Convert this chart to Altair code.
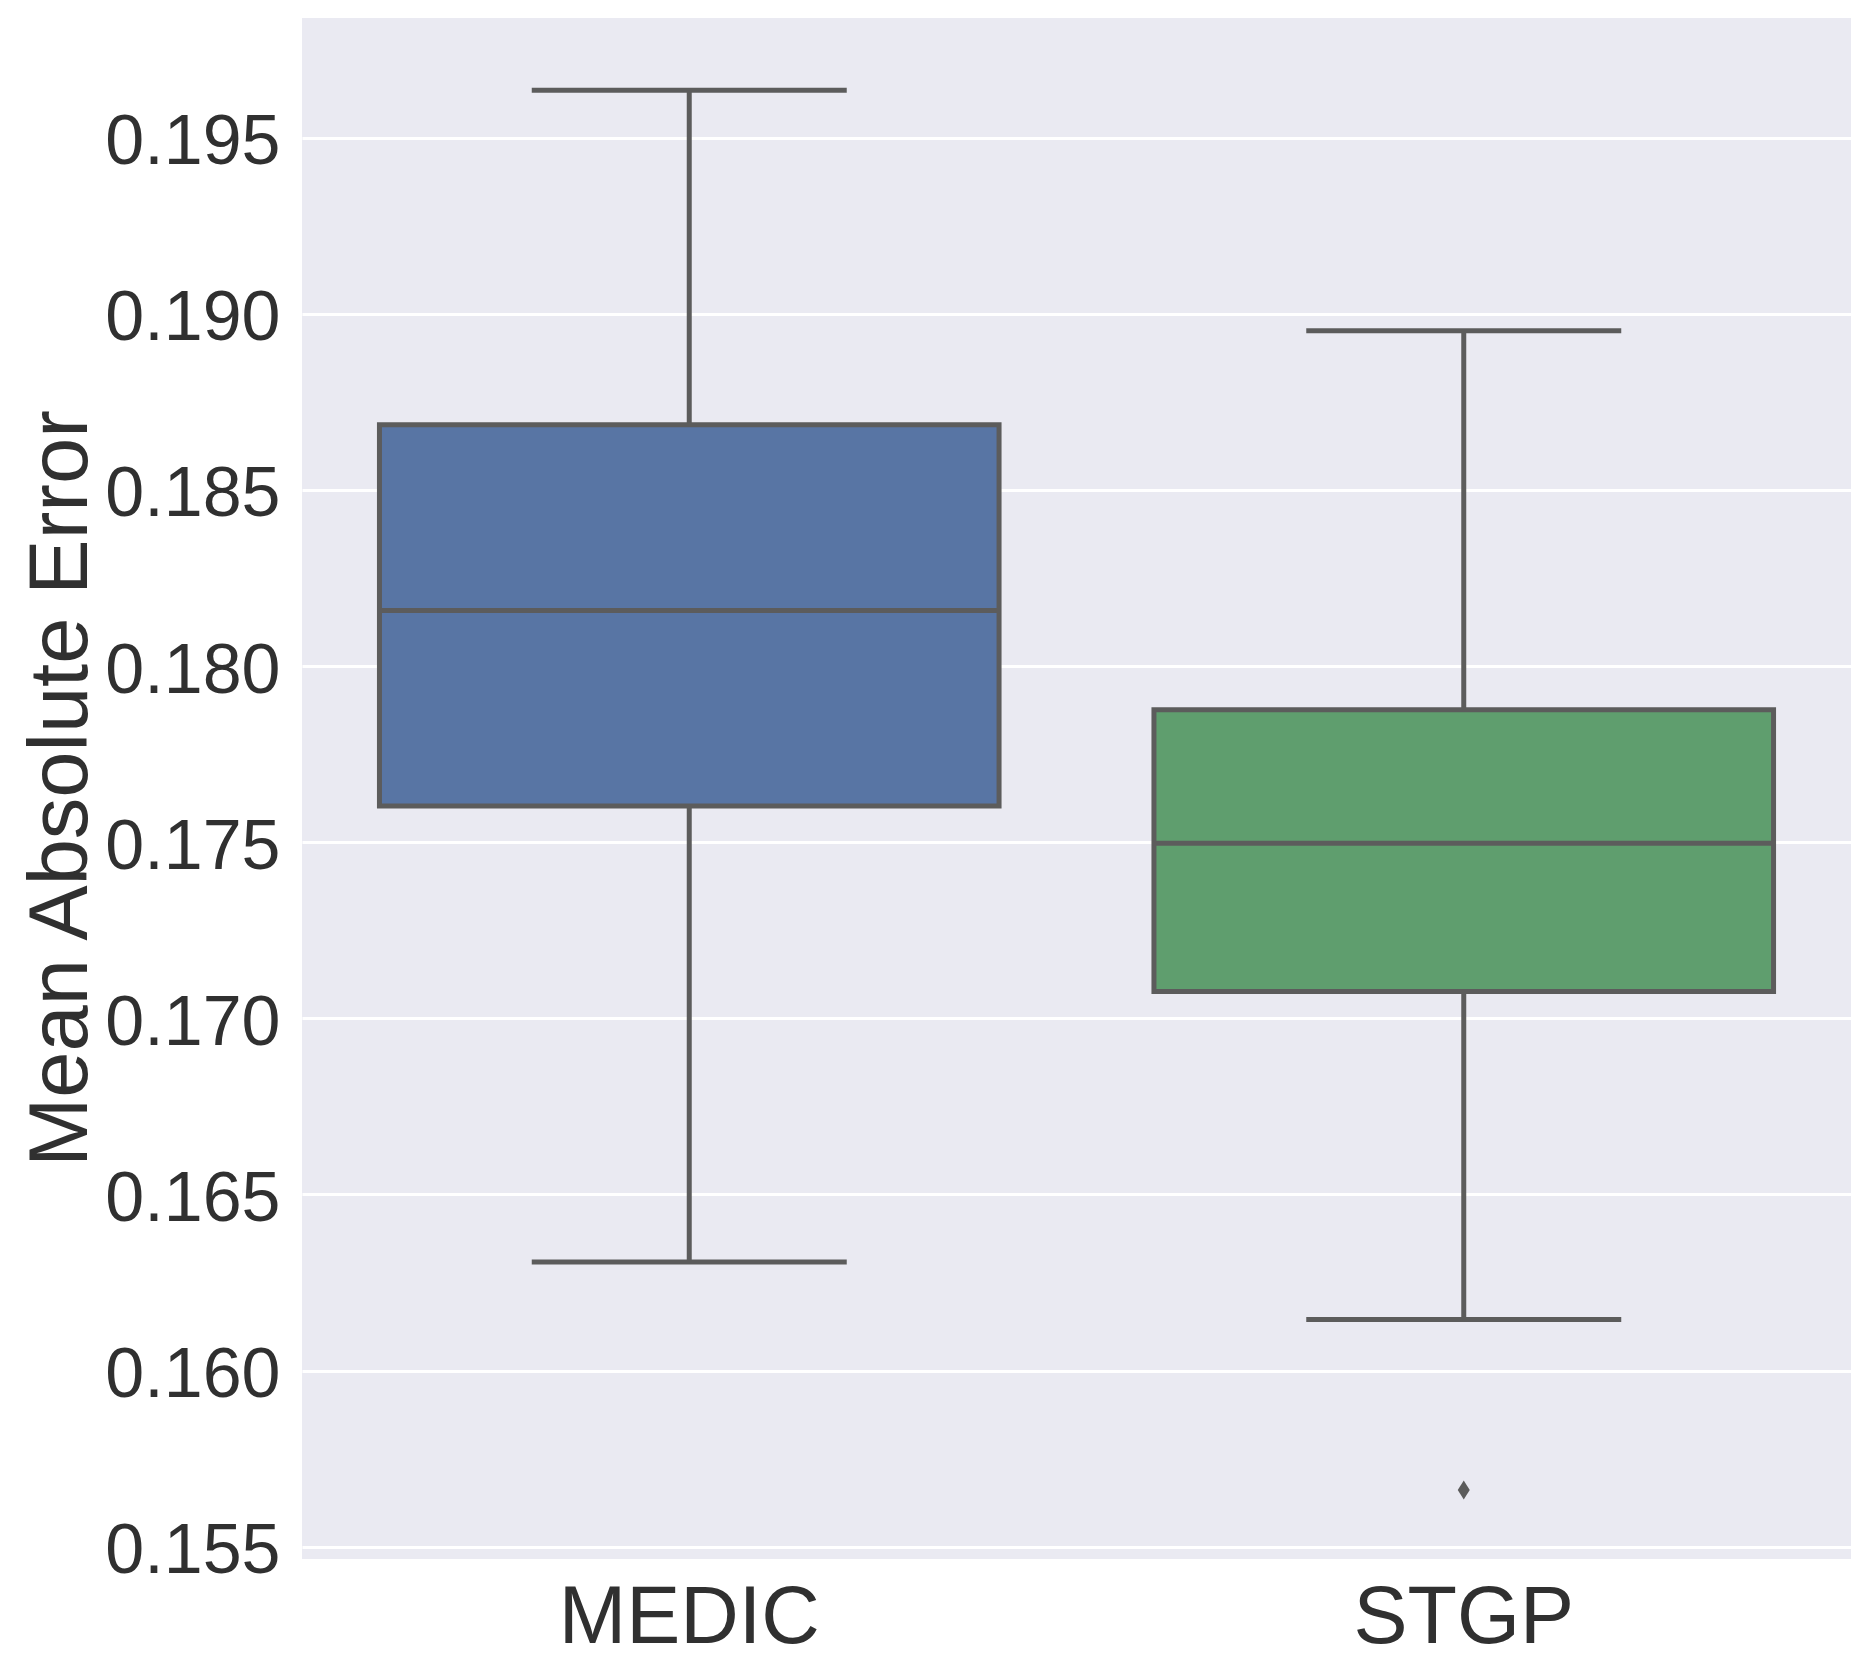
import altair as alt
import pandas as pd

# ---- data ----
categories = ["MEDIC", "STGP"]
whisker_low = [0.16308, 0.16145]
q1 = [0.17603, 0.17076]
median = [0.18158, 0.17497]
q3 = [0.18685, 0.17876]
whisker_high = [0.19635, 0.18952]

outlier_cat = ["STGP"]
outlier_val = [0.15661]

y_ticks = [0.155, 0.160, 0.165, 0.170, 0.175, 0.180, 0.185, 0.190, 0.195]
box_colors = ["#5875a4", "#5f9e6e"]

# ---- tables ----
stats = pd.DataFrame({
    "category": categories,
    "lo": whisker_low,
    "q1": q1,
    "med": median,
    "q3": q3,
    "hi": whisker_high,
})
outliers = pd.DataFrame({"category": outlier_cat, "value": outlier_val})

LINE = "#5c5c5c"
TEXT = "#303030"
FONT = "Liberation Sans"

y_scale = alt.Scale(domain=[0.15465, 0.19840], nice=False, zero=False)
x_scale = alt.Scale(domain=categories, paddingInner=0, paddingOuter=0)

x_enc = alt.X(
    "category:N",
    scale=x_scale,
    sort=categories,
    axis=alt.Axis(
        title="",
        labelAngle=0,
        labelFontSize=81,
        labelFont=FONT,
        labelColor=TEXT,
        labelPadding=19,
        labelBaseline="top",
        labelLimit=2000,
        ticks=False,
        tickSize=0,
        domain=False,
        grid=False,
    ),
)

y_axis = alt.Axis(
    title="Mean Absolute Error",
    values=y_ticks,
    format=".3f",
    labelFontSize=70,
    labelFont=FONT,
    labelColor=TEXT,
    labelPadding=22,
    labelOffset=5,
    labelLimit=2000,
    ticks=False,
    tickSize=0,
    domain=False,
    grid=True,
    gridColor="#ffffff",
    gridWidth=3,
    titleFont=FONT,
    titleFontSize=83,
    titleFontWeight="normal",
    titleColor=TEXT,
    titleAngle=270,
    titleBaseline="alphabetic",
    titleAlign="center",
    titleX=-216,
    titleY=770,
    titleLimit=3000,
)

base = alt.Chart(stats)

whiskers = base.mark_rule(color=LINE, strokeWidth=5).encode(
    x=x_enc,
    y=alt.Y("lo:Q", scale=y_scale, axis=y_axis),
    y2="hi:Q",
)

caps_hi = base.mark_tick(color=LINE, thickness=5, size=315, opacity=1).encode(
    x=x_enc, y=alt.Y("hi:Q", scale=y_scale)
)
caps_lo = base.mark_tick(color=LINE, thickness=5, size=315, opacity=1).encode(
    x=x_enc, y=alt.Y("lo:Q", scale=y_scale)
)

boxes = base.mark_bar(
    width=alt.RelativeBandSize(0.8), stroke=LINE, strokeWidth=5, opacity=1
).encode(
    x=x_enc,
    y=alt.Y("q1:Q", scale=y_scale),
    y2="q3:Q",
    fill=alt.Fill(
        "category:N",
        scale=alt.Scale(domain=categories, range=box_colors),
        legend=None,
    ),
)

medians = base.mark_tick(color=LINE, thickness=5, size=620, opacity=1).encode(
    x=x_enc, y=alt.Y("med:Q", scale=y_scale)
)

outlier_pts = alt.Chart(outliers).mark_point(
    shape="M0,-1L0.63,0L0,1L-0.63,0Z",
    filled=True,
    color=LINE,
    size=361,
    opacity=1,
).encode(
    x=x_enc,
    y=alt.Y("value:Q", scale=y_scale),
)

chart = (
    alt.layer(whiskers, caps_hi, caps_lo, boxes, medians, outlier_pts)
    .properties(
        width=1549,
        height=1541,
        padding={"left": 294, "top": 10, "right": 13, "bottom": 110},
        autosize=alt.AutoSizeParams(type="none"),
        background="#ffffff",
    )
    .configure_view(fill="#eaeaf2", strokeWidth=0)
)

chart.save("out.html", embed_options={"renderer": "svg", "actions": False})
